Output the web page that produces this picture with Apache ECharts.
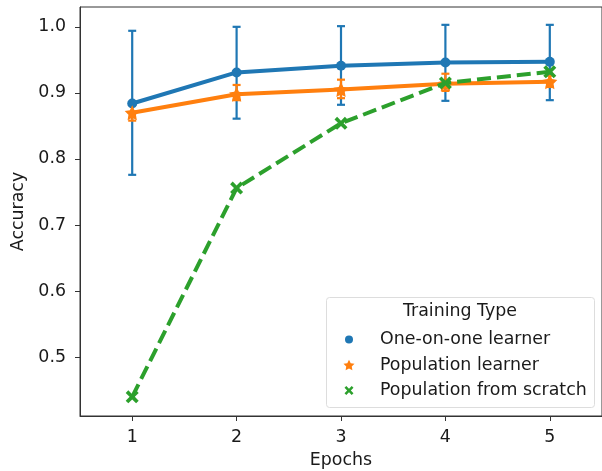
<!DOCTYPE html>
<html>
<head>
<meta charset="utf-8">
<script src="https://cdn.jsdelivr.net/npm/echarts@6/dist/echarts.min.js"></script>
<style>
html,body{margin:0;padding:0;background:#fff;}
#chart{width:602px;height:471px;}
</style>
</head>
<body>
<div id="chart"></div>
<script>
const epochs = [1, 2, 3, 4, 5];
const yTicks = [0.5, 0.6, 0.7, 0.8, 0.9, 1.0];
const oneOnOne = [0.884, 0.931, 0.941, 0.946, 0.947];
const oneOnOneLow = [0.776, 0.861, 0.882, 0.888, 0.889];
const oneOnOneHigh = [0.994, 1.000, 1.001, 1.003, 1.003];
const popLearner = [0.870, 0.898, 0.905, 0.914, 0.917];
const popLearnerLow = [0.858, 0.889, 0.892, 0.903, 0.909];
const popLearnerHigh = [0.882, 0.912, 0.920, 0.929, 0.926];
const scratch = [0.440, 0.756, 0.854, 0.915, 0.932];
const names = ['One-on-one learner', 'Population learner', 'Population from scratch'];

const BLUE = '#1f77b4', ORANGE = '#ff7f0e', GREEN = '#2ca02c';
const STAR = 'path://M10 0 L12.94 5.95 L19.51 6.91 L14.76 11.55 L15.88 18.09 L10 15 L4.12 18.09 L5.24 11.55 L0.49 6.91 L7.06 5.95 Z';
const XMARK = 'path://M0 4 L4 0 L10 6 L16 0 L20 4 L14 10 L20 16 L16 20 L10 14 L4 20 L0 16 L6 10 Z';
const FONT = 'DejaVu Sans';
const FS = 17.4;
const TXT = '#1a1a1a';

function errData(low, high) {
  return epochs.map((e, i) => [e, low[i], high[i]]);
}
function errSeries(low, high, color, cap) {
  return {
    type: 'custom',
    data: errData(low, high),
    encode: { x: 0, y: [1, 2] },
    silent: true,
    z: 3,
    renderItem: function (params, api) {
      const x = api.value(0);
      const lo = api.coord([x, api.value(1)]);
      const hi = api.coord([x, api.value(2)]);
      const style = { stroke: color, lineWidth: 2.2 };
      return {
        type: 'group',
        children: [
          { type: 'line', shape: { x1: lo[0], y1: lo[1], x2: hi[0], y2: hi[1] }, style: style },
          { type: 'line', shape: { x1: lo[0] - cap, y1: lo[1], x2: lo[0] + cap, y2: lo[1] }, style: style },
          { type: 'line', shape: { x1: hi[0] - cap, y1: hi[1], x2: hi[0] + cap, y2: hi[1] }, style: style }
        ]
      };
    }
  };
}

function legendItem(top, name, icon, w) {
  // icon centred at x=349, text starting at x=380
  const padL = 7 - w / 2;
  const textPad = 33 - padL - w;
  return {
    orient: 'vertical', left: 342, top: top, z: 60,
    itemWidth: w, itemHeight: w, itemGap: 0,
    padding: [0, 0, 0, padL],
    selectedMode: false,
    data: [{ name: name, icon: icon }],
    textStyle: { fontFamily: FONT, fontSize: FS, color: TXT, padding: [0, 0, 0, textPad] }
  };
}

const chart = echarts.init(document.getElementById('chart'), null, { renderer: 'canvas' });
chart.setOption({
  animation: false,
  backgroundColor: '#fff',
  grid: { left: 80, right: 0, top: 7, bottom: 55, show: true, borderColor: '#333', borderWidth: 1, containLabel: false, outerBoundsMode: 'none' },
  xAxis: {
    type: 'value', min: 0.5, max: 5.5,
    name: 'Epochs', nameLocation: 'middle', nameGap: 36,
    nameTextStyle: { fontFamily: FONT, fontSize: FS, color: TXT },
    axisLine: { show: true, lineStyle: { color: '#333' } },
    axisTick: { show: true, length: 5, lineStyle: { color: '#333' }, customValues: epochs },
    axisLabel: { fontFamily: FONT, fontSize: FS, color: TXT, margin: 13, customValues: epochs, formatter: v => String(v) },
    splitLine: { show: false }
  },
  yAxis: {
    type: 'value', min: 0.411, max: 1.030,
    name: 'Accuracy', nameLocation: 'middle', nameGap: 42,
    nameTextStyle: { fontFamily: FONT, fontSize: FS, color: TXT },
    axisLine: { show: true, lineStyle: { color: '#333' } },
    axisTick: { show: true, length: 5, lineStyle: { color: '#333' }, customValues: yTicks },
    axisLabel: { fontFamily: FONT, fontSize: FS, color: TXT, margin: 14, customValues: yTicks, formatter: v => v.toFixed(1) },
    splitLine: { show: false }
  },
  legend: [
    legendItem(331, names[0], 'circle', 8),
    legendItem(356.5, names[1], STAR, 11),
    legendItem(382, names[2], XMARK, 9)
  ],
  graphic: [
    { type: 'rect', left: 326, top: 297, shape: { width: 268, height: 110, r: 3 }, style: { fill: 'rgba(255,255,255,0.8)', stroke: '#ddd', lineWidth: 1 }, z: 50 },
    { type: 'text', x: 460, y: 311, style: { text: 'Training Type', fontFamily: FONT, fontSize: FS, fill: TXT, textAlign: 'center', textVerticalAlign: 'middle' }, z: 51 }
  ],
  series: [
    errSeries(oneOnOneLow, oneOnOneHigh, BLUE, 4),
    {
      name: names[0], type: 'line', data: epochs.map((e, i) => [e, oneOnOne[i]]),
      color: BLUE, symbol: 'circle', symbolSize: 10, showAllSymbol: true,
      lineStyle: { width: 4, color: BLUE }, itemStyle: { color: BLUE }, z: 4
    },
    errSeries(popLearnerLow, popLearnerHigh, ORANGE, 4),
    {
      name: names[1], type: 'line', data: epochs.map((e, i) => [e, popLearner[i]]),
      color: ORANGE, symbol: STAR, symbolSize: 15, showAllSymbol: true,
      lineStyle: { width: 4, color: ORANGE }, itemStyle: { color: ORANGE }, z: 5
    },
    {
      name: names[2], type: 'line', data: epochs.map((e, i) => [e, scratch[i]]),
      color: GREEN, symbol: XMARK, symbolSize: 13, showAllSymbol: true,
      lineStyle: { width: 4, color: GREEN, type: [14, 6] }, itemStyle: { color: GREEN }, z: 6
    }
  ]
});
</script>
</body>
</html>
